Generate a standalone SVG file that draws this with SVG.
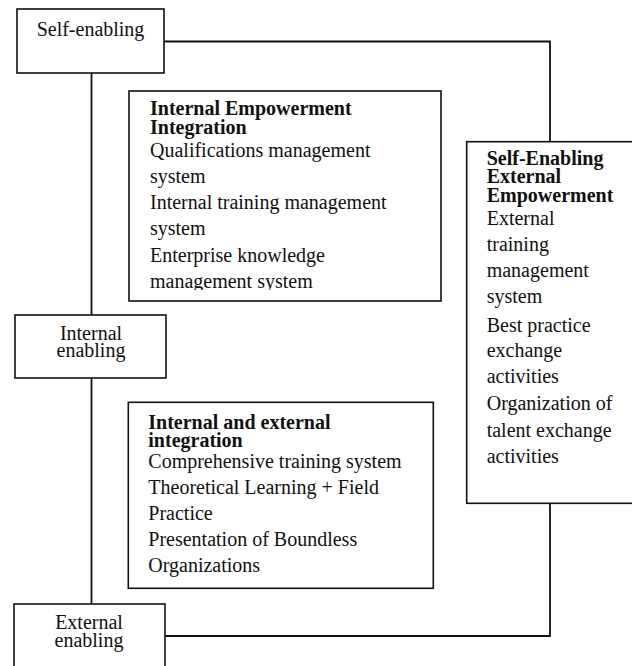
<svg xmlns="http://www.w3.org/2000/svg" width="632" height="666" viewBox="0 0 632 666">
  <style>
    .box { fill: #ffffff; stroke: #111111; stroke-width: 1.6; }
    .wire { fill: none; stroke: #111111; stroke-width: 1.8; }
    text { font-family: "Liberation Serif", "Times New Roman", serif; font-size: 20px; fill: #111111; }
    .head { font-weight: bold; }
    .mid { text-anchor: middle; }
  </style>
  <defs>
    <clipPath id="clipInner">
      <rect x="129" y="91" width="312" height="199"/>
    </clipPath>
  </defs>

  <!-- connectors -->
  <g id="connectors">
    <path class="wire" d="M91.5 73 V315"/>
    <path class="wire" d="M91.5 378 V604"/>
    <path class="wire" d="M164 41.5 H550 V142"/>
    <path class="wire" d="M550 503 V636 H165"/>
  </g>

  <!-- left column of stages -->
  <g id="self-enabling">
    <rect class="box" x="17" y="9" width="147" height="64"/>
    <text class="mid" x="90.5" y="36">Self-enabling</text>
  </g>

  <g id="internal-enabling">
    <rect class="box" x="15" y="315" width="151" height="63"/>
    <text class="mid" x="91" y="340">Internal</text>
    <text class="mid" x="91" y="357">enabling</text>
  </g>

  <g id="external-enabling">
    <rect class="box" x="14" y="604" width="151" height="70"/>
    <text class="mid" x="89" y="629">External</text>
    <text class="mid" x="89" y="647">enabling</text>
  </g>

  <!-- detail panels -->
  <g id="internal-empowerment">
    <rect class="box" x="129" y="91" width="312" height="210"/>
    <g clip-path="url(#clipInner)">
      <text class="head" x="150" y="115">Internal Empowerment</text>
      <text class="head" x="150" y="133.5">Integration</text>
      <text x="150" y="156.7">Qualifications management</text>
      <text x="150" y="182.7">system</text>
      <text x="150" y="209.3">Internal training management</text>
      <text x="150" y="235">system</text>
      <text x="150" y="261.7">Enterprise knowledge</text>
      <text x="150" y="287.7">management system</text>
    </g>
  </g>

  <g id="internal-external-integration">
    <rect class="box" x="128.3" y="402.3" width="305" height="186"/>
    <text class="head" x="148.3" y="429.3">Internal and external</text>
    <text class="head" x="148.3" y="446.7">integration</text>
    <text x="148.3" y="468.3">Comprehensive training system</text>
    <text x="148.3" y="494">Theoretical Learning + Field</text>
    <text x="148.3" y="520">Practice</text>
    <text x="148.3" y="546">Presentation of Boundless</text>
    <text x="148.3" y="571.7">Organizations</text>
  </g>

  <g id="external-empowerment">
    <rect class="box" x="466.7" y="141.7" width="170" height="361.6"/>
    <text class="head" x="486.7" y="165">Self-Enabling</text>
    <text class="head" x="486.7" y="183.3">External</text>
    <text class="head" x="486.7" y="201.7">Empowerment</text>
    <text x="486.7" y="225">External</text>
    <text x="486.7" y="250.7">training</text>
    <text x="486.7" y="277.3">management</text>
    <text x="486.7" y="303.3">system</text>
    <text x="486.7" y="331.7">Best practice</text>
    <text x="486.7" y="357.3">exchange</text>
    <text x="486.7" y="382.7">activities</text>
    <text x="486.7" y="410">Organization of</text>
    <text x="486.7" y="436.7">talent exchange</text>
    <text x="486.7" y="463.3">activities</text>
  </g>
</svg>
